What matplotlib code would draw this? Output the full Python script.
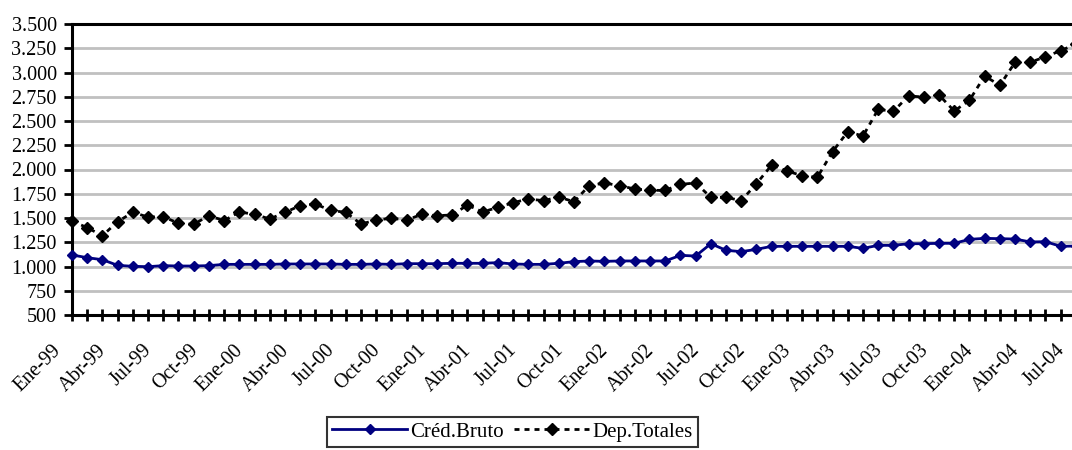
import matplotlib.pyplot as plt

plt.rcParams['font.family'] = ['Liberation Serif', 'DejaVu Serif']

meses = ['Ene', 'Feb', 'Mar', 'Abr', 'May', 'Jun', 'Jul', 'Ago', 'Sep', 'Oct', 'Nov', 'Dic']
fechas = ['%s-%02d' % (meses[i % 12], (99 + i // 12) % 100) for i in range(67)]

cred_bruto = [1119, 1091, 1070, 1012, 1002, 998, 1009, 1005, 1005, 1009,
              1022, 1022, 1022, 1022, 1026, 1026, 1026, 1026, 1022, 1022,
              1026, 1022, 1029, 1029, 1029, 1033, 1033, 1033, 1040, 1026,
              1022, 1022, 1033, 1050, 1057, 1053, 1057, 1057, 1057, 1057,
              1115, 1108, 1235, 1167, 1153, 1177, 1208, 1208, 1208, 1208,
              1208, 1208, 1187, 1218, 1218, 1235, 1235, 1239, 1239, 1280,
              1290, 1287, 1283, 1253, 1256, 1208, 1211]

dep_totales = [1469, 1400, 1318, 1462, 1558, 1510, 1514, 1445, 1435, 1524,
               1473, 1562, 1538, 1490, 1558, 1627, 1644, 1579, 1558, 1438,
               1479, 1497, 1479, 1538, 1524, 1531, 1634, 1562, 1610, 1658,
               1696, 1679, 1716, 1668, 1833, 1861, 1833, 1799, 1785, 1785,
               1847, 1861, 1713, 1713, 1679, 1854, 2046, 1985, 1936, 1919,
               2184, 2390, 2345, 2620, 2600, 2758, 2747, 2768, 2603, 2713,
               2964, 2868, 3105, 3105, 3163, 3225, 3294]

fig = plt.figure(figsize=(10.72, 4.5), dpi=100)
ax = fig.add_axes([72 / 1072, 1 - 315 / 450, 1010 / 1072, 291 / 450])

x = list(range(len(fechas)))
ax.plot(x, cred_bruto, color='#000080', lw=2, marker='D', ms=5.5,
        label='Créd.Bruto', clip_on=False, zorder=3)
ax.plot(x, dep_totales, color='black', lw=2, ls=(0, (1.8, 1.8)), marker='D', ms=6.5,
        label='Dep.Totales', clip_on=False, zorder=3)

ax.set_ylim(500, 3500)
ax.set_xlim(0, 66.4)
ax.set_yticks(range(500, 3501, 250))
ax.set_yticklabels(['{:,}'.format(v).replace(',', '.') for v in range(500, 3501, 250)])
ax.yaxis.grid(True, color='#c0c0c0', lw=2)
ax.set_axisbelow(True)

# ticks at every month, labels every quarter (drawn by hand to offset them like Excel)
ax.set_xticks(x)
ax.set_xticklabels([])
for i, f in enumerate(fechas):
    if i % 3 == 0:
        ax.annotate(f, xy=(i, 0), xycoords=('data', 'axes fraction'),
                    xytext=(-10, -23.5), textcoords='offset points',
                    rotation=45, ha='right', va='center', rotation_mode='anchor',
                    fontsize=14.5, annotation_clip=False)

ax.tick_params(axis='x', direction='inout', length=9, width=2)
ax.tick_params(axis='y', direction='out', length=6, width=2, labelsize=14.5, pad=5)
for s in ['left', 'bottom', 'top']:
    ax.spines[s].set_linewidth(2.2)
ax.spines['right'].set_visible(False)

leg = ax.legend(loc='upper left', bbox_to_anchor=(327 / 1072, 1 - 417 / 450),
                bbox_transform=fig.transFigure, ncol=2, fontsize=15,
                frameon=True, fancybox=False, borderpad=0.25, handlelength=3.6,
                columnspacing=0.5, handletextpad=0.15, borderaxespad=0)
leg.get_frame().set_edgecolor('black')
leg.get_frame().set_linewidth(1.5)

fig.savefig('out.png', dpi=100)
